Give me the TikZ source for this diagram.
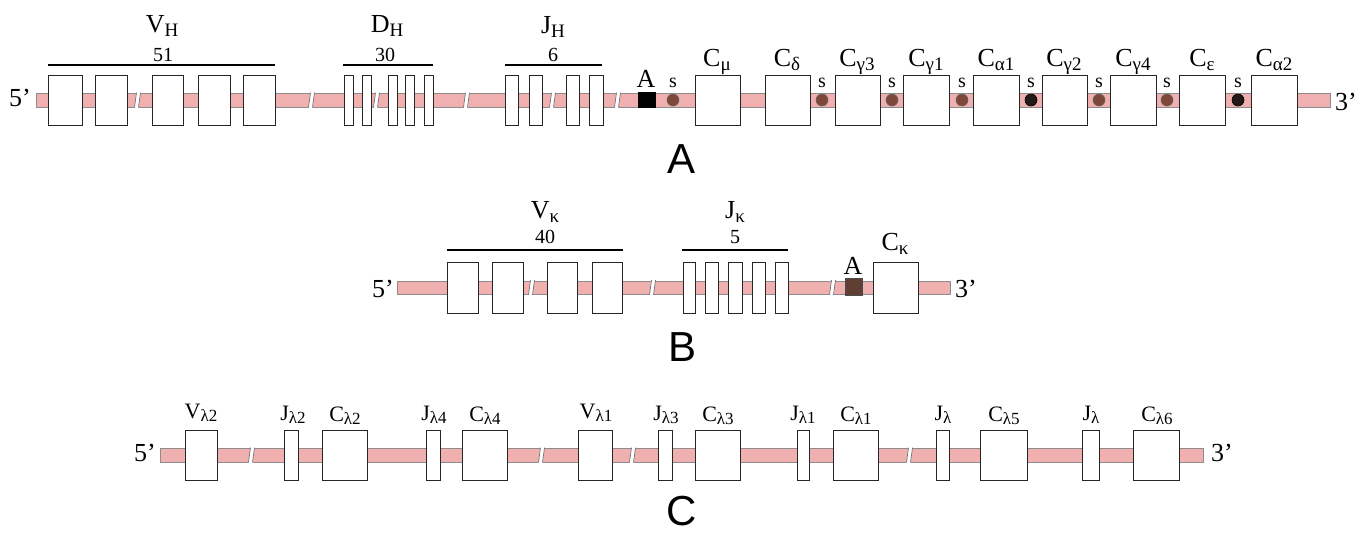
\documentclass[tikz,border=0pt]{standalone}
\usepackage{fontspec}
\setmainfont{Liberation Serif}
\newfontfamily\hvfont{Liberation Sans}
\definecolor{stripcol}{RGB}{240,176,176}
\definecolor{dotbrown}{RGB}{125,72,58}
\definecolor{dotdark}{RGB}{35,25,25}
\definecolor{sqbrown}{RGB}{95,62,52}
\newcommand\sub[1]{\raisebox{-0.35ex}{\fontsize{9.5}{10}\selectfont #1}}
\newcommand\subc[1]{\raisebox{-0.35ex}{\fontsize{8.5}{9}\selectfont #1}}
\tikzset{
  genebox/.style={draw=black!85, line width=0.5pt, fill=white, inner sep=0pt, outer sep=0pt},
  strip/.style={fill=stripcol, draw=black!45, line width=0.4pt},
  brkline/.style={draw=black!55, line width=0.35pt},
  bracket/.style={draw=black, line width=0.55pt},
  labA/.style={font=\fontsize{13}{14}\selectfont, inner sep=0pt, anchor=base},
  labC/.style={font=\fontsize{11}{12}\selectfont, inner sep=0pt, anchor=base},
  num/.style={font=\fontsize{10}{11}\selectfont, inner sep=0pt, anchor=base},
  slab/.style={font=\fontsize{10}{11}\selectfont, inner sep=0pt, anchor=base},
  endlab/.style={font=\fontsize{13}{14}\selectfont, inner sep=0pt},
  big/.style={font=\hvfont\fontsize{21}{22}\selectfont, inner sep=0pt},
  sdot/.style={circle, fill=dotbrown, draw=black!60, line width=0.3pt, minimum size=6pt, inner sep=0pt},
  sdotd/.style={circle, fill=dotdark, draw=black, line width=0.3pt, minimum size=6pt, inner sep=0pt},
}
% box: name, x1, x2, ycenter, height (px)
\newcommand\gb[5]{\node[genebox, minimum width={(#3-#2)*0.5pt}, minimum height={(#5)*0.5pt}] (#1) at ({(#2+#3)/2},#4) {};}
% break: x, ycenter
\newcommand\brk[2]{%
  \fill[white] ({#1-1.5},{#2-8}) -- ({#1+2.5},{#2-8}) -- ({#1+0.5},{#2+8}) -- ({#1-3.5},{#2+8}) -- cycle;
  \draw[brkline] ({#1-1.5},{#2-7.3}) -- ({#1-3.5},{#2+7.3});
  \draw[brkline] ({#1+2.5},{#2-7.3}) -- ({#1+0.5},{#2+7.3});}
\begin{document}
\begin{tikzpicture}[x=0.5pt,y=-0.5pt]
\useasboundingbox[fill=white] (0,0) rectangle (1367,532);

%%%%%%%%%%%%%%%% Row A %%%%%%%%%%%%%%%%
\path[strip] (36,93) rectangle (1330,107);
\foreach \b in {138,312,377,467,553,618} {\brk{\b}{100}}
\gb{va1}{48}{82}{100}{50}
\gb{va2}{95}{127}{100}{50}
\gb{va3}{152}{183}{100}{50}
\gb{va4}{198}{230}{100}{50}
\gb{va5}{243}{275}{100}{50}
\gb{da1}{344}{353}{100}{50}
\gb{da2}{362}{371}{100}{50}
\gb{da3}{388}{397}{100}{50}
\gb{da4}{405}{414}{100}{50}
\gb{da5}{424}{433}{100}{50}
\gb{ja1}{505}{518}{100}{50}
\gb{ja2}{529}{542}{100}{50}
\gb{ja3}{566}{579}{100}{50}
\gb{ja4}{589}{603}{100}{50}
\gb{cmu}{695}{740}{100}{50}
\gb{cdelta}{765}{810}{100}{50}
\gb{cg3}{835}{880}{100}{50}
\gb{cg1}{903}{949}{100}{50}
\gb{ca1}{973}{1019}{100}{50}
\gb{cg2}{1042}{1087}{100}{50}
\gb{cg4}{1110}{1156}{100}{50}
\gb{ce}{1179}{1225}{100}{50}
\gb{ca2}{1251}{1297}{100}{50}
\node[fill=black, minimum width=9pt, minimum height=8pt, inner sep=0pt] (asqA) at (647,100) {};
\node[labA] (asqAl) at (646,87) {A};
\foreach \x/\n/\st in {673/s1/sdot,822/s2/sdot,892/s3/sdot,962/s4/sdot,1031/s5/sdotd,1099/s6/sdot,1167/s7/sdot,1238/s8/sdotd} {
  \node[\st] (\n) at (\x,100) {};
  \node[slab] (\n l) at (\x,87) {s};
}
% brackets
\coordinate (vhL) at (48,65); \coordinate (vhR) at (275,65);
\draw[bracket] (vhL) -- (vhR);
\coordinate (dhL) at (343,65); \coordinate (dhR) at (433,65);
\draw[bracket] (dhL) -- (dhR);
\coordinate (jhL) at (505,65); \coordinate (jhR) at (602,65);
\draw[bracket] (jhL) -- (jhR);
\node[labA] (lvh) at (162,32) {V\sub{H}};
\node[num] (nvh) at (163,61) {51};
\node[labA] (ldh) at (387,32) {D\sub{H}};
\node[num] (ndh) at (385,61) {30};
\node[labA] (ljh) at (553,33) {J\sub{H}};
\node[num] (njh) at (553,61) {6};
\node[labA] (lcmu) at (717,66) {C\sub{μ}};
\node[labA] (lcdelta) at (787,66) {C\sub{δ}};
\node[labA] (lcg3) at (857,66) {C\sub{γ3}};
\node[labA] (lcg1) at (926,66) {C\sub{γ1}};
\node[labA] (lca1) at (996,66) {C\sub{α1}};
\node[labA] (lcg2) at (1064,66) {C\sub{γ2}};
\node[labA] (lcg4) at (1133,66) {C\sub{γ4}};
\node[labA] (lce) at (1202,66) {C\sub{ε}};
\node[labA] (lca2) at (1274,66) {C\sub{α2}};
\node[endlab] (a5) at (20,98) {5’};
\node[endlab] (a3) at (1346,102) {3’};
\node[big] (bigA) at (682,159) {A};

%%%%%%%%%%%%%%%% Row B %%%%%%%%%%%%%%%%
\path[strip] (397,281) rectangle (950,294);
\foreach \b in {532,653,833} {\brk{\b}{287.5}}
\gb{vk1}{447}{478}{287.5}{51}
\gb{vk2}{492}{523}{287.5}{51}
\gb{vk3}{547}{577}{287.5}{51}
\gb{vk4}{592}{622}{287.5}{51}
\gb{jk1}{683}{695}{287.5}{51}
\gb{jk2}{705}{718}{287.5}{51}
\gb{jk3}{728}{742}{287.5}{51}
\gb{jk4}{752}{765}{287.5}{51}
\gb{jk5}{775}{788}{287.5}{51}
\gb{ck}{873}{918}{287.5}{51}
\node[fill=sqbrown, draw=black!70, line width=0.3pt, minimum width=8.5pt, minimum height=8.5pt, inner sep=0pt] (asqB) at (853.5,287) {};
\node[labA] (asqBl) at (853,274) {A};
\coordinate (vkL) at (447,250); \coordinate (vkR) at (623,250);
\draw[bracket] (vkL) -- (vkR);
\coordinate (jkL) at (682,250); \coordinate (jkR) at (788,250);
\draw[bracket] (jkL) -- (jkR);
\node[labA] (lvk) at (545,218) {V\sub{κ}};
\node[num] (nvk) at (545,243) {40};
\node[labA] (ljk) at (735,218) {J\sub{κ}};
\node[num] (njk) at (735,243) {5};
\node[labA] (lck) at (895,250) {C\sub{κ}};
\node[endlab] (b5) at (383,289) {5’};
\node[endlab] (b3) at (966,289) {3’};
\node[big] (bigB) at (683,347) {B};

%%%%%%%%%%%%%%%% Row C %%%%%%%%%%%%%%%%
\path[strip] (160,448) rectangle (1203,462);
\foreach \b in {252,542,633,910} {\brk{\b}{455}}
\gb{vl2}{185}{217}{455}{50}
\gb{jl2}{284}{298}{455}{50}
\gb{cl2}{322}{367}{455}{50}
\gb{jl4}{426}{440}{455}{50}
\gb{cl4}{462}{507}{455}{50}
\gb{vl1}{578}{612}{455}{50}
\gb{jl3}{658}{672}{455}{50}
\gb{cl3}{695}{740}{455}{50}
\gb{jl1}{797}{809}{455}{50}
\gb{cl1}{833}{878}{455}{50}
\gb{jla}{936}{949}{455}{50}
\gb{cl5}{980}{1027}{455}{50}
\gb{jlb}{1082}{1099}{455}{50}
\gb{cl6}{1133}{1179}{455}{50}
\node[labC] (lvl2) at (201,418) {V\subc{λ2}};
\node[labC] (ljl2) at (293,420) {J\subc{λ2}};
\node[labC] (lcl2) at (345,421) {C\subc{λ2}};
\node[labC] (ljl4) at (434,420) {J\subc{λ4}};
\node[labC] (lcl4) at (485,421) {C\subc{λ4}};
\node[labC] (lvl1) at (596,418) {V\subc{λ1}};
\node[labC] (ljl3) at (666,420) {J\subc{λ3}};
\node[labC] (lcl3) at (718,421) {C\subc{λ3}};
\node[labC] (ljl1) at (803,420) {J\subc{λ1}};
\node[labC] (lcl1) at (856,421) {C\subc{λ1}};
\node[labC] (ljla) at (943,420) {J\subc{λ}};
\node[labC] (lcl5) at (1004,421) {C\subc{λ5}};
\node[labC] (ljlb) at (1091,420) {J\subc{λ}};
\node[labC] (lcl6) at (1157,421) {C\subc{λ6}};
\node[endlab] (c5) at (145,453) {5’};
\node[endlab] (c3) at (1222,453) {3’};
\node[big] (bigC) at (682,511) {C};
\end{tikzpicture}
\end{document}
